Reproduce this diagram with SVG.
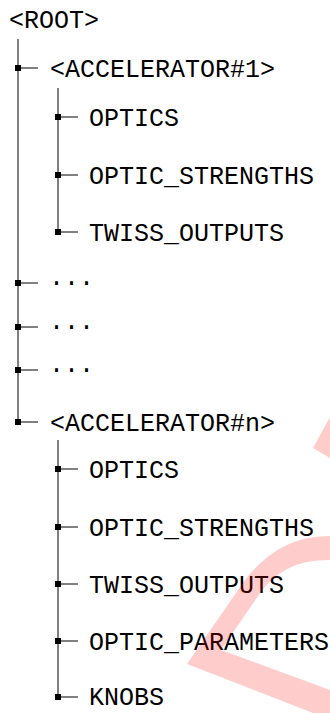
<svg xmlns="http://www.w3.org/2000/svg" width="330" height="713" viewBox="0 0 330 713">
<style>
.t{font-family:"Liberation Mono","DejaVu Sans Mono",monospace;font-size:25px;fill:#000}
.l{stroke:#000;stroke-width:1;fill:none}
.j{fill:#000}
.wm{fill:#ff0000;fill-opacity:0.2}
</style>
<rect width="330" height="713" fill="#fff"/>
<g id="connectors">
<path class="l" d="M18,39V422M18,68H38M18,283H38M18,327H38M18,370H38M18,422H38"/>
<path class="l" d="M58,88V232M58,117H78M58,175H78M58,232H78"/>
<path class="l" d="M58,440V697M58,469H78M58,527H78M58,584H78M58,641H78M58,697H78"/>
<rect class="j" x="15" y="65" width="6" height="6"/>
<rect class="j" x="15" y="280" width="6" height="6"/>
<rect class="j" x="15" y="324" width="6" height="6"/>
<rect class="j" x="15" y="367" width="6" height="6"/>
<rect class="j" x="15" y="419" width="6" height="6"/>
<rect class="j" x="55" y="114" width="6" height="6"/>
<rect class="j" x="55" y="172" width="6" height="6"/>
<rect class="j" x="55" y="229" width="6" height="6"/>
<rect class="j" x="55" y="466" width="6" height="6"/>
<rect class="j" x="55" y="524" width="6" height="6"/>
<rect class="j" x="55" y="581" width="6" height="6"/>
<rect class="j" x="55" y="638" width="6" height="6"/>
<rect class="j" x="55" y="694" width="6" height="6"/>
</g>
<g id="root"><text class="t" x="9" y="28">&lt;ROOT&gt;</text></g>
<g id="acc1"><text class="t" x="50" y="77">&lt;ACCELERATOR#1&gt;</text></g>
<g id="acc1-optics"><text class="t" x="89" y="126">OPTICS</text></g>
<g id="acc1-strengths"><text class="t" x="89" y="184">OPTIC_STRENGTHS</text></g>
<g id="acc1-twiss"><text class="t" x="89" y="241">TWISS_OUTPUTS</text></g>
<g id="dots1"><text class="t" x="49" y="285">...</text></g>
<g id="dots2"><text class="t" x="49" y="329">...</text></g>
<g id="dots3"><text class="t" x="49" y="372">...</text></g>
<g id="accn"><text class="t" x="50" y="431">&lt;ACCELERATOR#n&gt;</text></g>
<g id="accn-optics"><text class="t" x="89" y="478">OPTICS</text></g>
<g id="accn-strengths"><text class="t" x="89" y="536">OPTIC_STRENGTHS</text></g>
<g id="accn-twiss"><text class="t" x="89" y="593">TWISS_OUTPUTS</text></g>
<g id="accn-params"><text class="t" x="89" y="650">OPTIC_PARAMETERS</text></g>
<g id="accn-knobs"><text class="t" x="89" y="705">KNOBS</text></g>
<g id="watermark">
<path class="wm" d="M313,448L330,417V458Z"/>
<path class="wm" d="M330,536C290,536 265,555 245,580L187,664L313,713H330V690L221,650L258,596C275,572 295,560 330,560Z"/>
</g>
</svg>
